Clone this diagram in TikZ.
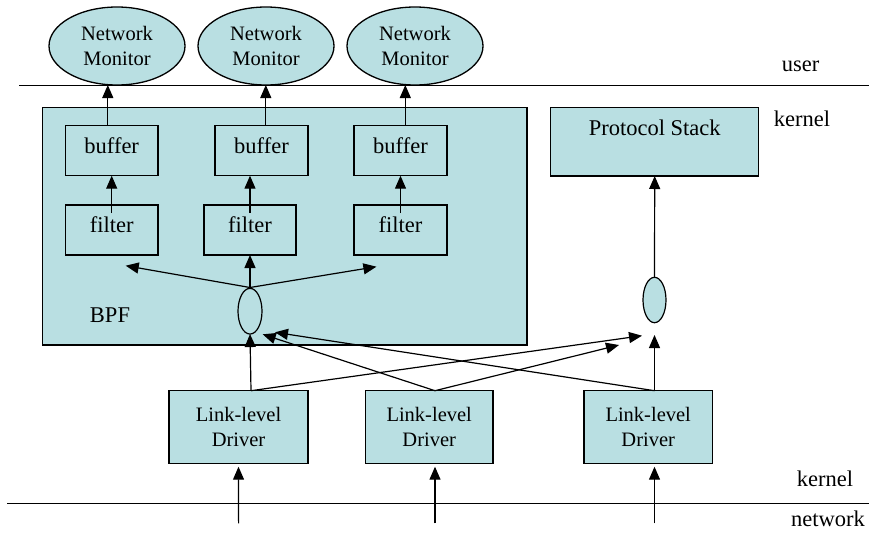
\documentclass[tikz,border=0pt]{standalone}
\usepackage{fontspec}
\setmainfont{Liberation Serif}
\usetikzlibrary{arrows.meta,shapes.geometric}
\definecolor{boxfill}{HTML}{B9DFE2}
\tikzset{
  x=1pt, y=-1pt,
  every node/.style={inner sep=0pt, outer sep=0pt},
  bigtext/.style={font=\fontsize{22.5}{27}\selectfont, text height=0.7em, text depth=0.2em},
  smalltext/.style={font=\fontsize{20.5}{25.6}\selectfont, align=center},
  panel/.style={draw, fill=boxfill, line width=1.3pt},
  stagebox/.style={panel, bigtext, minimum height=50pt},
  monitor/.style={panel, ellipse, smalltext, minimum width=136pt, minimum height=78pt},
  driver/.style={panel, rectangle, smalltext, minimum height=72.6pt},
  muxnode/.style={draw, ellipse, line width=1.2pt},
  arr/.style={line width=1.2pt, -{Triangle[length=13pt,width=11pt]}},
  layer/.style={line width=1.2pt}
}
\begin{document}
\begin{tikzpicture}
\useasboundingbox (0,0) rectangle (869,533);

% user / kernel boundary and kernel / network boundary
\coordinate (ul) at (19,85.7);  \coordinate (ur) at (869,85.7);
\coordinate (nl) at (7,503.3);  \coordinate (nr) at (869,503.3);
\draw[layer] (ul) -- (ur);
\draw[layer] (nl) -- (nr);

\node[bigtext] (user)    at (800.5,69.4)  {user};
\node[bigtext] (kernelA) at (802,123.8)   {kernel};
\node[bigtext] (kernelB) at (825,483.8)   {kernel};
\node[bigtext] (net)     at (828,523.8)   {network};

% user-level monitors
\node[monitor] (mon1) at (117,46) {Network\\Monitor};
\node[monitor] (mon2) at (266,46) {Network\\Monitor};
\node[monitor] (mon3) at (415,46) {Network\\Monitor};

% packet filter
\node[panel, minimum width=484.6pt, minimum height=237.3pt] (bpf) at (284.7,226.35) {};
\node[bigtext] (bpflabel) at (110,319.9) {BPF};

\node[stagebox, minimum width=92.6pt] (buf1) at (111.7,150.7) {buffer};
\node[stagebox, minimum width=93pt]   (buf2) at (261.5,150.7) {buffer};
\node[stagebox, minimum width=93pt]   (buf3) at (400.5,150.7) {buffer};

\node[stagebox, minimum width=92.6pt] (fil1) at (111.7,230) {filter};
\node[stagebox, minimum width=92pt]   (fil2) at (250,230)   {filter};
\node[stagebox, minimum width=93pt]   (fil3) at (400.5,230) {filter};

\node[muxnode, minimum width=24pt, minimum height=45.7pt] (mux1) at (250,311.2) {};

% protocol stack side
\node[panel, minimum width=208pt, minimum height=68.3pt] (ps) at (654.7,141.85) {};
\node[bigtext] (pstext) at (654.7,132.8) {Protocol Stack};
\node[muxnode, fill=boxfill, minimum width=23pt, minimum height=45.4pt] (mux2) at (654.5,300) {};

% drivers
\node[driver, minimum width=139pt]   (lld1) at (238.5,427)  {Link-level\\Driver};
\node[driver, minimum width=127.5pt] (lld2) at (429.2,427)  {Link-level\\Driver};
\node[driver, minimum width=128.3pt] (lld3) at (648.2,427)  {Link-level\\Driver};

% buffers up to the monitors
\draw[arr] ([xshift=-3.9pt]buf1.north) -- ([xshift=-3.9pt]buf1.north |- mon1.south);
\draw[arr] ([xshift=4.3pt]buf2.north)  -- ([xshift=4.3pt]buf2.north |- mon2.south);
\draw[arr] ([xshift=4.8pt]buf3.north)  -- ([xshift=4.8pt]buf3.north |- mon3.south);

% filters up to the buffers
\draw[arr] ([yshift=-8pt]fil1.north) -- (buf1.south);
\draw[arr] ([yshift=-8pt]fil2.north) -- (fil2.north |- buf2.south);
\draw[arr] ([yshift=-8pt]fil3.north) -- (buf3.south);

% tap fan-out to the filters
\coordinate (tapL) at (125.7,265.7);
\coordinate (tapR) at (376.4,266.7);
\coordinate (tap)  at (250,287.5);
\draw[arr] (tap) -- (tapL);
\draw[arr] (tap) -- (fil2.south);
\draw[arr] (tap) -- (tapR);

% protocol stack input
\draw[arr] (mux2.north) -- (ps.south);

% driver outputs
\coordinate (d1) at (251,390.7);
\coordinate (d2) at (435,390.7);
\coordinate (d3) at (654.5,390.7);
\coordinate (p1) at (642,335.7);
\coordinate (p2) at (619,345);
\coordinate (p3) at (654.5,335);
\coordinate (q2) at (262.7,334.3);
\coordinate (q3) at (275,332.3);
\draw[arr] (d1) -- (mux1.south);
\draw[arr] (d1) -- (p1);
\draw[arr] (d2) -- (p2);
\draw[arr] (d2) -- (q2);
\draw[arr] (d3) -- (q3);
\draw[arr] (d3) -- (p3);

% network inputs to the drivers
\coordinate (n1) at (238.6,523.3);
\coordinate (n2) at (435,523.3);
\coordinate (n3) at (654.5,523.3);
\draw[arr, shorten >=3.4pt] (n1) -- (lld1.south);
\draw[arr, shorten >=3.4pt] (n2) -- (n2 |- lld2.south);
\draw[arr, shorten >=3.4pt] (n3) -- (n3 |- lld3.south);
\end{tikzpicture}
\end{document}
